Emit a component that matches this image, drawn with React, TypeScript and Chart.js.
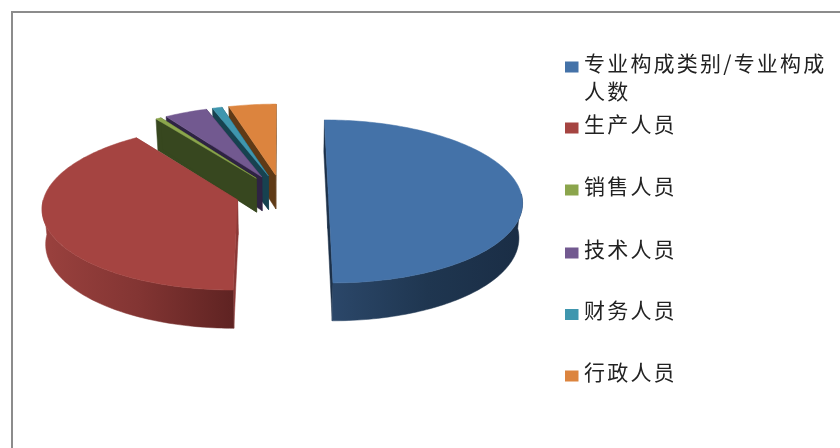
import React, { useEffect, useRef } from "react";
import { Chart, registerables } from "chart.js";

Chart.register(...registerables);

const categories = ["专业构成类别/专业构成人数", "生产人员", "销售人员", "技术人员", "财务人员", "行政人员"];
const headcountShare = [50.0, 40.2, 0.5, 4.0, 0.9, 4.4];

const topColors = ["#4472a8", "#a54441", "#8ba54c", "#725990", "#3f96ae", "#dc843e"];
const cutColors = ["#1c3048", "#8a3836", "#37471f", "#2e2343", "#174250", "#5f3a16"];
const wallStops = [
  ["#2b4769", "#1f3650", "#1a2d45"],
  ["#9a413e", "#833533", "#5f2322"],
  ["#37471f", "#37471f", "#37471f"],
  ["#2e2343", "#2e2343", "#2e2343"],
  ["#174250", "#174250", "#174250"],
  ["#5f3a16", "#5f3a16", "#5f3a16"],
];

// Back-to-front painting order for the exploded wedges.
const paintOrder = [5, 4, 3, 2, 1, 0];

const view = { radiusX: 193, radiusY: 80.8, depth: 34.5, distance: 11, taper: 0.015 };
const legendBox = { markerX: 565, markerW: 13.5, markerH: 11, textX: 584, lineHeight: 28, maxWidth: 256, rows: [67, 128, 190, 253, 314.5, 376] };

function sampleArc(from: number, to: number) {
  const steps = Math.max(2, Math.ceil(Math.abs(to - from) / 0.02));
  const out: number[] = [];
  for (let i = 0; i <= steps; i++) out.push(from + ((to - from) * i) / steps);
  return out;
}

function fillPolygon(ctx: CanvasRenderingContext2D, pts: number[][], fill: string | CanvasGradient) {
  ctx.beginPath();
  pts.forEach((p, i) => (i ? ctx.lineTo(p[0], p[1]) : ctx.moveTo(p[0], p[1])));
  ctx.closePath();
  ctx.fillStyle = fill;
  ctx.fill();
  ctx.strokeStyle = fill;
  ctx.lineWidth = 0.5;
  ctx.stroke();
}

// Redraws each arc element as an extruded wedge seen from above, in perspective.
const tiltedPie = {
  id: "tiltedPie",
  beforeDatasetsDraw(chart: any) {
    const { ctx } = chart;
    const arcs = chart.getDatasetMeta(0).data;
    ctx.save();
    for (const index of paintOrder) {
      const el = arcs[index];
      const { x, y, startAngle, endAngle, outerRadius } = el.getProps(["x", "y", "startAngle", "endAngle", "outerRadius"], true);
      const explode = el.options.offset / outerRadius;
      const mid = (startAngle + endAngle) / 2;
      const du = Math.cos(mid) * explode;
      const dv = Math.sin(mid) * explode;
      const project = (u: number, v: number, h: number) => {
        const s = view.distance / (view.distance - v);
        return [x + u * view.radiusX * s * (1 - view.taper * h), y + v * view.radiusY * s + h * view.depth * s];
      };
      const rim = (a: number, h: number) => project(du + Math.cos(a), dv + Math.sin(a), h);
      const apexTop = project(du, dv, 0);
      const apexBottom = project(du, dv, 1);

      // Flat cut faces
      for (const a of [startAngle, endAngle]) {
        fillPolygon(ctx, [apexTop, rim(a, 0), rim(a, 1), apexBottom], cutColors[index]);
      }

      // Only the part of the rim facing the viewer is visible.
      const from = Math.max(startAngle, 0);
      const to = Math.min(endAngle, Math.PI);
      if (to > from) {
        const angles = sampleArc(from, to);
        const upper = angles.map((a) => rim(a, 0));
        const lower = angles.map((a) => rim(a, 1)).reverse();
        const xs = upper.map((p) => p[0]);
        const grad = ctx.createLinearGradient(Math.min(...xs), 0, Math.max(...xs), 0);
        wallStops[index].forEach((c, i) => grad.addColorStop(i / 2, c));
        fillPolygon(ctx, [...upper, ...lower], grad);
      }

      // Top face
      const face = sampleArc(startAngle, endAngle).map((a) => rim(a, 0));
      fillPolygon(ctx, [apexTop, ...face], topColors[index]);
    }
    ctx.restore();
    return false;
  },
  afterDraw(chart: any) {
    const { ctx } = chart;
    ctx.save();
    ctx.font = '21px "Noto Sans CJK SC"';
    (ctx as any).letterSpacing = "2.2px";
    ctx.textBaseline = "middle";
    chart.data.labels.forEach((label: string, i: number) => {
      const rowY = legendBox.rows[i];
      ctx.fillStyle = topColors[i];
      ctx.fillRect(legendBox.markerX, rowY - legendBox.markerH / 2, legendBox.markerW, legendBox.markerH);
      const lines: string[] = [];
      let line = "";
      for (const ch of label) {
        if (ctx.measureText(line + ch).width > legendBox.maxWidth) {
          lines.push(line);
          line = ch;
        } else line += ch;
      }
      lines.push(line);
      ctx.fillStyle = "#222222";
      lines.forEach((t, k) => ctx.fillText(t, legendBox.textX, rowY - 4 + k * legendBox.lineHeight));
    });
    ctx.restore();
  },
};

export default function App() {
  const ref = useRef<HTMLCanvasElement>(null);
  useEffect(() => {
    const chart = new Chart(ref.current!, {
      type: "pie",
      data: {
        labels: categories,
        datasets: [{ data: headcountShare, backgroundColor: topColors, offset: 36, borderWidth: 0 }],
      },
      options: {
        animation: false,
        responsive: false,
        radius: 150,
        events: [],
        layout: { padding: { right: 276, bottom: 60 } },
        plugins: { legend: { display: false }, tooltip: { enabled: false } },
      },
      plugins: [tiltedPie],
    } as any);
    return () => chart.destroy();
  }, []);
  return (
    <div style={{ position: "fixed", left: 0, top: 0, width: 840, height: 448, background: "#fff", overflow: "hidden" }}>
      <canvas ref={ref} width={840} height={448} style={{ position: "absolute", left: 0, top: 0 }} />
      <div style={{ position: "absolute", left: 10.5, top: 11, right: -4, bottom: -4, borderLeft: "2px solid #8c8c8c", borderTop: "2px solid #8c8c8c" }} />
    </div>
  );
}
